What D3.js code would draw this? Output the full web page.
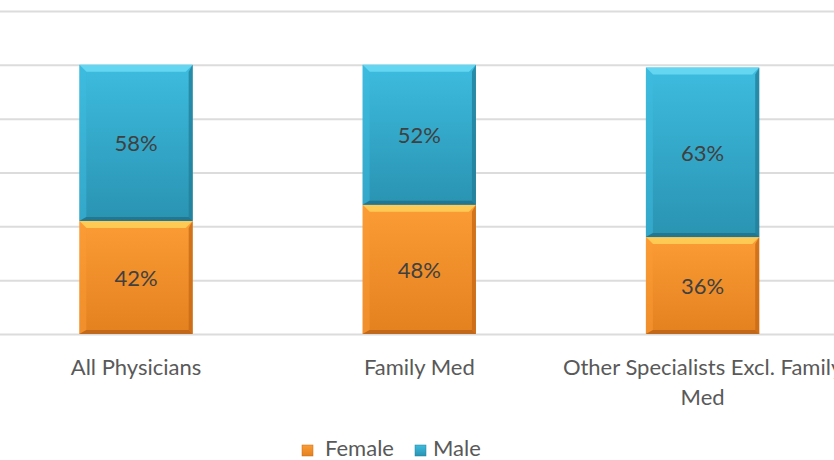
<!DOCTYPE html>
<html>
<head>
<meta charset="utf-8">
<script src="https://cdn.jsdelivr.net/npm/d3@7"></script>
<style>
  html, body { margin: 0; padding: 0; background: #fff; }
  svg { display: block; font-family: Lato, "Open Sans", sans-serif; }
</style>
</head>
<body>
<div id="viz"></div>
<script>
const categories = ['All Physicians', 'Family Med', 'Other Specialists Excl. Family Med'];
const categoryLines = [['All Physicians'], ['Family Med'], ['Other Specialists Excl. Family', 'Med']];
const female = [0.42, 0.48, 0.36];
const male = [0.58, 0.52, 0.63];
const gridTicks = [0, 0.2, 0.4, 0.6, 0.8, 1.0, 1.2];
const seriesNames = ['Female', 'Male'];

function buildChart(containerId) {
    const width = 834;
    const height = 460;

    const svg = d3.select(containerId)
                  .append('svg')
                  .attr('width', width)
                  .attr('height', height);

    const x = d3.scaleBand()
                .domain(categories)
                .range([-5.6, 844.2])
                .paddingInner(0.6)
                .paddingOuter(0.3);

    const y = d3.scaleLinear()
                .domain([0, 1.2])
                .range([334, 11]);

    // gradients
    const defs = svg.append('defs');
    const palettes = {
        Female: { top: '#fb9c35', bottom: '#e3811f', bevelTop: '#ffd25a', side: '#c86a16', low: '#b8611a' },
        Male:   { top: '#3dbcdf', bottom: '#2a93b2', bevelTop: '#6bdaf4', side: '#237f9a', low: '#216f88' }
    };
    seriesNames.forEach(name => {
        const p = palettes[name];
        const grad = defs.append('linearGradient')
                         .attr('id', 'grad-' + name)
                         .attr('x1', 0).attr('y1', 0)
                         .attr('x2', 0).attr('y2', 1);
        grad.append('stop').attr('offset', '0%').attr('stop-color', p.top);
        grad.append('stop').attr('offset', '100%').attr('stop-color', p.bottom);
    });

    // gridlines
    const grid = d3.axisLeft(y)
                   .tickValues(gridTicks)
                   .tickSize(-width)
                   .tickFormat('');
    svg.append('g')
       .attr('class', 'grid')
       .call(grid)
       .call(g => g.select('.domain').remove())
       .call(g => g.selectAll('line')
                   .attr('stroke', '#dcdcdc')
                   .attr('stroke-width', 2));

    // stacked data
    const rows = categories.map((c, i) => ({ category: c, Female: female[i], Male: male[i] }));
    const stacked = d3.stack().keys(seriesNames)(rows);

    const bw = x.bandwidth();
    const bevel = 7;

    stacked.forEach(layer => {
        const p = palettes[layer.key];
        const g = svg.append('g').attr('class', 'series-' + layer.key);

        layer.forEach(d => {
            const x0 = x(d.data.category);
            const x1 = x0 + bw;
            const yTop = y(d[1]);
            const yBot = y(d[0]);
            const seg = g.append('g');

            seg.append('rect')
               .attr('x', x0)
               .attr('y', yTop)
               .attr('width', bw)
               .attr('height', yBot - yTop)
               .attr('fill', 'url(#grad-' + layer.key + ')');

            // top bevel
            seg.append('polygon')
               .attr('points', [[x0, yTop], [x1, yTop], [x1 - bevel, yTop + bevel], [x0 + bevel, yTop + bevel]].join(' '))
               .attr('fill', p.bevelTop)
               .attr('opacity', 0.85);
            // left bevel
            seg.append('polygon')
               .attr('points', [[x0, yTop], [x0 + bevel, yTop + bevel], [x0 + bevel, yBot - 4], [x0, yBot]].join(' '))
               .attr('fill', p.top)
               .attr('opacity', 0.5);
            // right bevel
            seg.append('polygon')
               .attr('points', [[x1, yTop], [x1, yBot], [x1 - 4, yBot - 4], [x1 - 4, yTop + bevel]].join(' '))
               .attr('fill', p.side)
               .attr('opacity', 0.8);
            // bottom bevel
            seg.append('polygon')
               .attr('points', [[x0, yBot], [x1, yBot], [x1 - 4, yBot - 4], [x0 + bevel, yBot - 4]].join(' '))
               .attr('fill', p.low)
               .attr('opacity', 0.8);

            seg.append('text')
               .attr('x', x0 + bw / 2)
               .attr('y', (yTop + yBot) / 2)
               .attr('text-anchor', 'middle')
               .attr('dominant-baseline', 'central')
               .attr('font-size', 22)
               .attr('fill', '#404040')
               .text(Math.round((d[1] - d[0]) * 100) + '%');
        });
    });

    // category labels
    categories.forEach((c, i) => {
        const t = svg.append('text')
                     .attr('class', 'x-label')
                     .attr('text-anchor', 'middle')
                     .attr('font-size', 22)
                     .attr('fill', '#595959');
        categoryLines[i].forEach((line, j) => {
            t.append('tspan')
             .attr('x', x(c) + bw / 2)
             .attr('y', 375 + j * 30)
             .text(line);
        });
    });

    // legend
    const legendX = [302, 415];
    const legend = svg.append('g').attr('class', 'legend');
    seriesNames.forEach((name, i) => {
        const p = palettes[name];
        legend.append('rect')
              .attr('x', legendX[i])
              .attr('y', 445)
              .attr('width', 11)
              .attr('height', 11)
              .attr('fill', 'url(#grad-' + name + ')')
              .attr('stroke', p.side)
              .attr('stroke-width', 0.5);
        legend.append('text')
              .attr('x', legendX[i] + (i === 0 ? 23 : 18))
              .attr('y', 456)
              .attr('font-size', 22)
              .attr('fill', '#595959')
              .text(name);
    });
}

buildChart('#viz');
</script>
</body>
</html>
